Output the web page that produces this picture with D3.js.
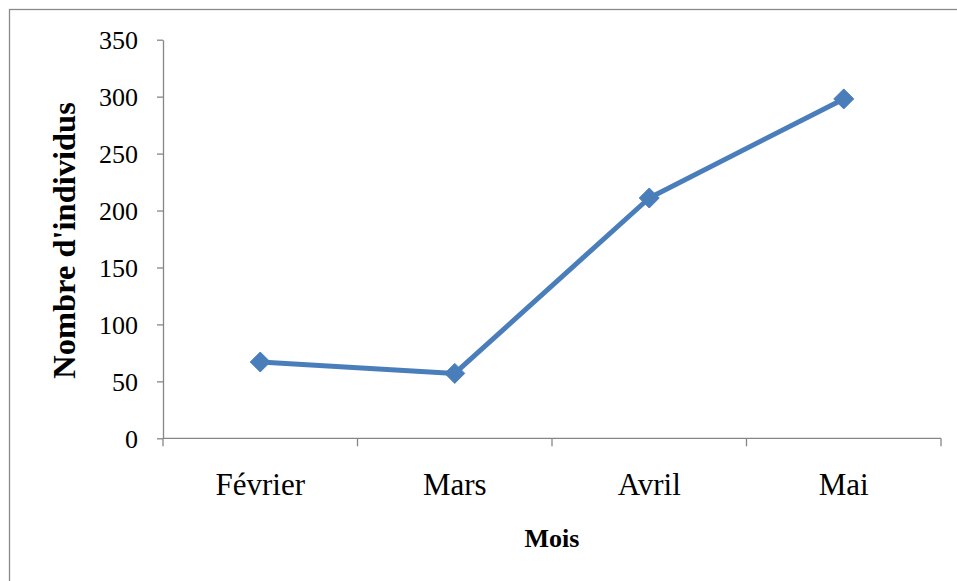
<!DOCTYPE html>
<html>
<head>
<meta charset="utf-8">
<script src="https://cdn.jsdelivr.net/npm/d3@7"></script>
<style>
  html, body { margin: 0; padding: 0; background: #fff; }
  svg { display: block; }
</style>
</head>
<body>
<svg id="chart" width="957" height="581"></svg>
<script>
// Monthly counts of individuals
const months = ["Février", "Mars", "Avril", "Mai"];
const counts = [67, 57, 211, 298];
const yTicks = [0, 50, 100, 150, 200, 250, 300, 350];

const svg = d3.select("#chart");
const W = 957, H = 581;
const plot = { left: 163, right: 941, top: 39.7, bottom: 438.3 };
const axisColor = "#868686";
const lineColor = "#4a7ebb";
const serif = "'Liberation Serif', 'Times New Roman', serif";

svg.append("rect").attr("width", W).attr("height", H).attr("fill", "#fff");

// outer frame (runs past right and bottom edges)
svg.append("rect")
  .attr("x", 9.5).attr("y", 9.5)
  .attr("width", W + 10).attr("height", H + 10)
  .attr("fill", "none").attr("stroke", "#8a8a8a").attr("stroke-width", 1.3);

const x = d3.scaleBand().domain(months).range([plot.left, plot.right]).padding(0);
const y = d3.scaleLinear().domain([0, 350]).range([plot.bottom, plot.top]);

// Y axis
const yAxis = svg.append("g")
  .attr("transform", `translate(${plot.left},0)`)
  .call(d3.axisLeft(y).tickValues(yTicks).tickSize(6).tickSizeOuter(0).tickPadding(19));
yAxis.attr("font-family", serif);
yAxis.select(".domain").attr("stroke", axisColor).attr("stroke-width", 1.3);
yAxis.selectAll(".tick line").attr("stroke", axisColor).attr("stroke-width", 1.3);
yAxis.selectAll(".tick text")
  .attr("font-family", serif).attr("font-size", 26).attr("fill", "#000")
  .attr("dy", "0.34em");

// X axis: category labels centred in bands, ticks on band boundaries
const xAxis = svg.append("g")
  .attr("transform", `translate(0,${plot.bottom})`)
  .call(d3.axisBottom(x).tickSize(0).tickSizeOuter(0));
xAxis.attr("font-family", serif);
xAxis.select(".domain").remove();
xAxis.selectAll(".tick text")
  .attr("font-family", serif).attr("font-size", 31).attr("fill", "#000")
  .attr("y", 57).attr("dy", 0);

svg.append("line")
  .attr("x1", plot.left).attr("x2", plot.right)
  .attr("y1", plot.bottom).attr("y2", plot.bottom)
  .attr("stroke", axisColor).attr("stroke-width", 1.3);

const boundaries = months.map(m => x(m)).concat([x(months[months.length - 1]) + x.bandwidth()]);
svg.append("g").selectAll("line")
  .data(boundaries)
  .join("line")
  .attr("x1", d => d).attr("x2", d => d)
  .attr("y1", plot.bottom).attr("y2", plot.bottom + 8)
  .attr("stroke", axisColor).attr("stroke-width", 1.3);

// Axis titles
svg.append("text")
  .attr("x", 552).attr("y", 547)
  .attr("text-anchor", "middle")
  .attr("font-family", serif).attr("font-weight", "bold").attr("font-size", 26)
  .text("Mois");

svg.append("text")
  .attr("transform", "translate(75,240.5) rotate(-90)")
  .attr("text-anchor", "middle")
  .attr("font-family", serif).attr("font-weight", "bold").attr("font-size", 32.5)
  .text("Nombre d'individus");

// Series line and diamond markers
const cx = m => x(m) + x.bandwidth() / 2;
const data = months.map((m, i) => ({ m, v: counts[i] }));

svg.append("path")
  .datum(data)
  .attr("fill", "none")
  .attr("stroke", lineColor)
  .attr("stroke-width", 5)
  .attr("stroke-linejoin", "round")
  .attr("d", d3.line().x(d => cx(d.m)).y(d => y(d.v)));

svg.append("g").selectAll("path")
  .data(data)
  .join("path")
  .attr("transform", d => `translate(${cx(d.m)},${y(d.v)})`)
  .attr("d", "M0,-10L10,0L0,10L-10,0Z")
  .attr("fill", lineColor)
  .attr("stroke", lineColor)
  .attr("stroke-width", 1);
</script>
</body>
</html>
